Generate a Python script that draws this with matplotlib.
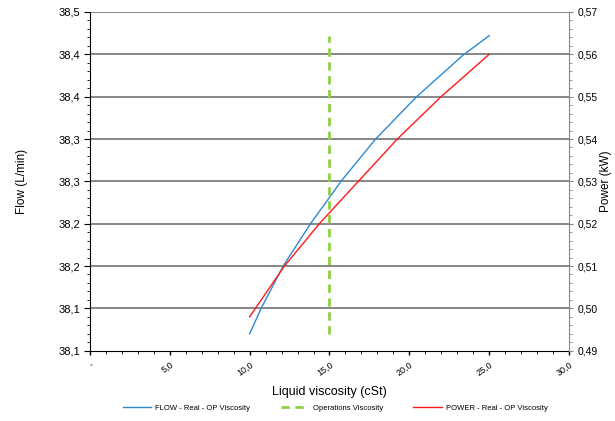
import numpy as np
import matplotlib
matplotlib.use("Agg")
import matplotlib.pyplot as plt
from matplotlib.lines import Line2D

plt.rcParams['font.family'] = ['Liberation Sans', 'DejaVu Sans']

# valori
flow_visc = [10.0, 10.72, 12.10, 13.81, 15.0, 15.72, 17.89, 20.46, 23.36, 25.0]
flow = [38.120, 38.150, 38.200, 38.250, 38.281, 38.300, 38.350, 38.400, 38.449, 38.472]
power_visc = [10.0, 10.38, 12.18, 14.39, 15.0, 16.32, 19.25, 21.96, 25.0]
power = [0.4980, 0.5001, 0.5100, 0.5201, 0.5226, 0.5280, 0.5400, 0.5499, 0.5600]
op_visc = [15.0, 15.0]
op_flow = [38.120, 38.472]

flow_ticks = [38.10, 38.15, 38.20, 38.25, 38.30, 38.35, 38.40, 38.45, 38.50]
flow_labels = ["38,1", "38,1", "38,2", "38,2", "38,3", "38,3", "38,4", "38,4", "38,5"]
power_ticks = [0.49, 0.50, 0.51, 0.52, 0.53, 0.54, 0.55, 0.56, 0.57]
power_labels = ["0,49", "0,50", "0,51", "0,52", "0,53", "0,54", "0,55", "0,56", "0,57"]
x_ticks = [0, 5, 10, 15, 20, 25, 30]
x_labels = ["-", "5,0", "10,0", "15,0", "20,0", "25,0", "30,0"]

c_flow = "#2a8ad6"
c_op = "#8ecf45"
c_power = "#ff1a1a"

fig = plt.figure(figsize=(6.15, 4.21), dpi=100)
ax = fig.add_axes([0.1463, 0.167, 0.7789, 0.8045])
ax2 = ax.twinx()

ax.set_xlim(0, 30)
ax.set_ylim(38.10, 38.50)
ax2.set_ylim(0.49, 0.57)

for t in flow_ticks[1:]:
    ax.axhline(t, color="#666666", lw=1.1, zorder=0)

ax.plot(flow_visc, flow, color=c_flow, lw=1.0)
ax.plot(op_visc, op_flow, color=c_op, lw=2.0, ls=(0, (3, 2)))
ax2.plot(power_visc, power, color=c_power, lw=1.0)

ax.set_yticks(flow_ticks)
ax.set_yticklabels(flow_labels, fontsize=8)
ax.set_yticks(np.arange(38.10, 38.501, 0.01), minor=True)
ax2.set_yticks(power_ticks)
ax2.set_yticklabels(power_labels, fontsize=7.5)
ax2.set_yticks(np.arange(0.49, 0.5701, 0.002), minor=True)
ax.set_xticks(x_ticks)
ax.set_xticklabels(x_labels, fontsize=6.5, rotation=35, ha="right", rotation_mode="anchor")
ax.set_xticks(np.arange(0, 31, 1), minor=True)

ax.tick_params(axis="y", which="major", length=4, width=0.8, pad=3)
ax.tick_params(axis="y", which="minor", length=2, width=0.6)
ax.tick_params(axis="x", which="major", length=3, width=1.0, pad=4)
ax.tick_params(axis="x", which="minor", length=2, width=0.6)
ax2.tick_params(axis="y", which="major", length=3, width=0.8, color="#888888", pad=3)
ax2.tick_params(axis="y", which="minor", length=2, width=0.6, color="#888888")

ax.spines["top"].set_visible(False)
ax2.spines["top"].set_visible(False)
ax2.spines["left"].set_visible(False)
ax2.spines["bottom"].set_visible(False)
ax2.spines["right"].set_color("#888888")
ax.spines["right"].set_visible(False)

ax.set_ylabel("Flow (L/min)", fontsize=8.5, labelpad=22)
ax2.set_ylabel("Power (kW)", fontsize=8.5, labelpad=2)
ax.set_xlabel("Liquid viscosity (cSt)", fontsize=9, labelpad=6)

handles = [Line2D([], [], color=c_flow, lw=1.0),
           Line2D([], [], color=c_op, lw=2.0, ls=(0, (3, 2))),
           Line2D([], [], color=c_power, lw=1.0)]
names = ["FLOW - Real - OP Viscosity", "Operations Viscosity", "POWER - Real - OP Viscosity"]
fig.legend(handles, names, loc="center", bbox_to_anchor=(0.545, 0.031), ncol=3,
           fontsize=5.5, frameon=False, handlelength=3.7, columnspacing=4.0, handletextpad=0.5)

fig.savefig("out.png", dpi=100)
